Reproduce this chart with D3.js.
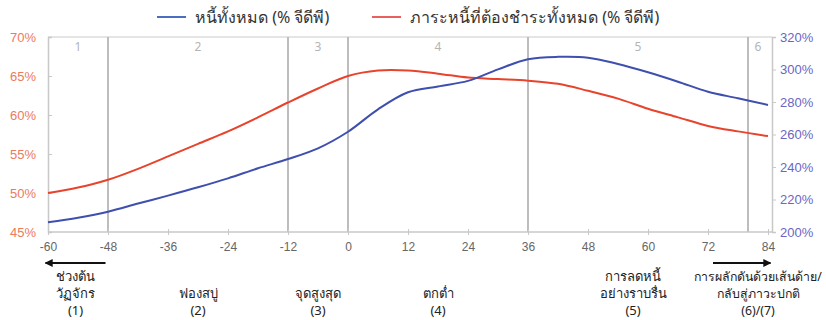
<!DOCTYPE html>
<html>
<head>
<meta charset="utf-8">
<script src="https://cdn.jsdelivr.net/npm/d3@7"></script>
<style>
  html, body { margin: 0; padding: 0; background: #fff; }
  svg { display: block; font-family: "Noto Sans", "Open Sans", sans-serif; }
</style>
</head>
<body>
<svg id="chart" width="826" height="320"></svg>
<script>
// Months relative to the peak of the debt cycle
const months = [-60,-54,-48,-42,-36,-30,-24,-18,-12,-6,0,6,12,18,24,30,36,42,48,54,60,66,72,78,84];
// Total debt, % of GDP (right axis)
const totalDebt = [206.0,208.8,212.5,217.5,222.4,227.5,233.0,239.2,244.9,251.5,261.7,275.5,286.0,289.6,293.0,300.1,306.3,307.8,307.3,303.4,298.3,292.5,286.3,282.3,278.2];
// Debt service burden, % of GDP (left axis)
const debtService = [50.0,50.7,51.7,53.1,54.7,56.3,57.9,59.7,61.6,63.4,65.0,65.7,65.7,65.3,64.8,64.6,64.4,64.0,63.1,62.1,60.8,59.7,58.6,57.9,57.3];

const xTicks = [-60,-48,-36,-24,-12,0,12,24,36,48,60,72,84];
const leftTicks = [45,50,55,60,65,70];
const rightTicks = [200,220,240,260,280,300,320];

// Phase boundaries and phase numbers
const phaseBounds = [-48,-12,0,36,80];
const phaseNums = [
  {n: "1", m: -54}, {n: "2", m: -30}, {n: "3", m: -6},
  {n: "4", m: 18}, {n: "5", m: 58}, {n: "6", m: 82}
];
// Phase descriptions below the axis
const phaseLabels = [
  {m: -54.5, lines: ["ช่วงต้น", "วัฏจักร", "(1)"]},
  {m: -30,   lines: ["ฟองสบู่", "(2)"]},
  {m: -6,    lines: ["จุดสูงสุด", "(3)"]},
  {m: 18,    lines: ["ตกต่ำ", "(4)"]},
  {m: 57,    lines: ["การลดหนี้", "อย่างราบรื่น", "(5)"]},
  {m: 82,    lines: ["การผลักดันด้วยเส้นด้าย/", "กลับสู่ภาวะปกติ", "(6)/(7)"]}
];
const legendItems = [
  {label: "หนี้ทั้งหมด (% จีดีพี)", color: "#4a6fc0"},
  {label: "ภาระหนี้ที่ต้องชำระทั้งหมด (% จีดีพี)", color: "#e86060"}
];

const blue = "#3f4fae";
const red = "#e8432c";

const svg = d3.select("#chart");
const plotL = 48, plotR = 768, plotT = 37, plotB = 232, axisR = 772;

const x = d3.scaleLinear().domain([-60, 84]).range([plotL, plotR]);
const yL = d3.scaleLinear().domain([45, 70]).range([plotB, plotT]);
const yR = d3.scaleLinear().domain([200, 320]).range([plotB, plotT]);

// top frame line
svg.append("line").attr("x1", plotL).attr("x2", axisR).attr("y1", plotT).attr("y2", plotT)
  .attr("stroke", "#dcdcdc").attr("stroke-width", 1.5);

// phase separators
svg.append("g").selectAll("line").data(phaseBounds).join("line")
  .attr("x1", d => x(d)).attr("x2", d => x(d))
  .attr("y1", plotT).attr("y2", plotB)
  .attr("stroke", "#bdbdbd").attr("stroke-width", 2);

svg.append("g").selectAll("text").data(phaseNums).join("text")
  .attr("x", d => x(d.m)).attr("y", 51)
  .attr("text-anchor", "middle").attr("font-size", 12).attr("fill", "#b4b4b4")
  .text(d => d.n);

// x axis
const xAxis = svg.append("g").attr("transform", `translate(0,${plotB})`)
  .call(d3.axisBottom(x).tickValues(xTicks).tickSize(4).tickPadding(6).tickFormat(d3.format("d")));
xAxis.select(".domain").attr("stroke", "#c8c8c8").attr("stroke-width", 1.5)
  .attr("d", `M${plotL},0H${axisR}`);
xAxis.selectAll(".tick line").attr("stroke", "#c8c8c8").attr("y1", -3).attr("y2", 3);
xAxis.selectAll("text").attr("fill", "#666").attr("font-size", 12)
  .text(d => d < 0 ? "-" + Math.abs(d) : d);

// left axis
const lAxis = svg.append("g").attr("transform", `translate(${plotL},0)`)
  .call(d3.axisLeft(yL).tickValues(leftTicks).tickSize(-4).tickPadding(12).tickFormat(d => d + "%"));
lAxis.select(".domain").attr("stroke", "#c8c8c8").attr("stroke-width", 1.5);
lAxis.selectAll(".tick line").attr("stroke", "#c8c8c8");
lAxis.selectAll("text").attr("fill", "#ec7a5e").attr("font-size", 13);

// right axis
const rAxis = svg.append("g").attr("transform", `translate(${axisR},0)`)
  .call(d3.axisRight(yR).tickValues(rightTicks).tickSize(4).tickPadding(4).tickFormat(d => d + "%"));
rAxis.select(".domain").attr("stroke", "#c8c8c8").attr("stroke-width", 1.5);
rAxis.selectAll(".tick line").attr("stroke", "#c8c8c8");
rAxis.selectAll("text").attr("fill", "#6a66c4").attr("font-size", 13);

// series
const lineR = d3.line().x((d, i) => x(months[i])).y(d => yL(d)).curve(d3.curveCatmullRom);
const lineB = d3.line().x((d, i) => x(months[i])).y(d => yR(d)).curve(d3.curveCatmullRom);

svg.append("path").datum(debtService).attr("d", lineR)
  .attr("fill", "none").attr("stroke", red).attr("stroke-width", 2);
svg.append("path").datum(totalDebt).attr("d", lineB)
  .attr("fill", "none").attr("stroke", blue).attr("stroke-width", 2);

// legend
const legendX = [157, 372];
const lg = svg.append("g").selectAll("g").data(legendItems).join("g")
  .attr("transform", (d, i) => `translate(${legendX[i]},17)`);
lg.append("line").attr("x1", 0).attr("x2", 29).attr("stroke", d => d.color).attr("stroke-width", 2);
lg.append("text").attr("x", 38).attr("y", 5.5).attr("font-size", 16).attr("fill", "#333")
  .text(d => d.label);

// phase descriptions; a label keeps inside the right edge by shrinking its font
const maxLabelW = 128;
const pl = svg.append("g").selectAll("text").data(phaseLabels).join("text")
  .attr("text-anchor", "middle").attr("font-size", 13).attr("fill", "#222");
pl.each(function(d) {
  const n = d.lines.length;
  const t = d3.select(this);
  d.lines.forEach((s, i) => {
    t.append("tspan").attr("x", x(d.m)).attr("y", 315 - (n - 1 - i) * 17).text(s);
  });
  let w = 0;
  t.selectAll("tspan").each(function() { w = Math.max(w, this.getComputedTextLength()); });
  if (w > maxLabelW) t.attr("font-size", 13 * maxLabelW / w);
});

// arrows
const defs = svg.append("defs");
defs.append("marker").attr("id", "ah").attr("viewBox", "0 0 10 10")
  .attr("refX", 9).attr("refY", 5).attr("markerWidth", 4).attr("markerHeight", 4.5)
  .attr("orient", "auto-start-reverse")
  .append("path").attr("d", "M0,0L10,5L0,10z").attr("fill", "#111");
const arrows = [[-48.5, -60.5], [73, 84.5]];
svg.append("g").selectAll("line").data(arrows).join("line")
  .attr("x1", d => x(d[0])).attr("x2", d => x(d[1]))
  .attr("y1", 263).attr("y2", 263)
  .attr("stroke", "#111").attr("stroke-width", 2)
  .attr("marker-end", "url(#ah)");
</script>
</body>
</html>
